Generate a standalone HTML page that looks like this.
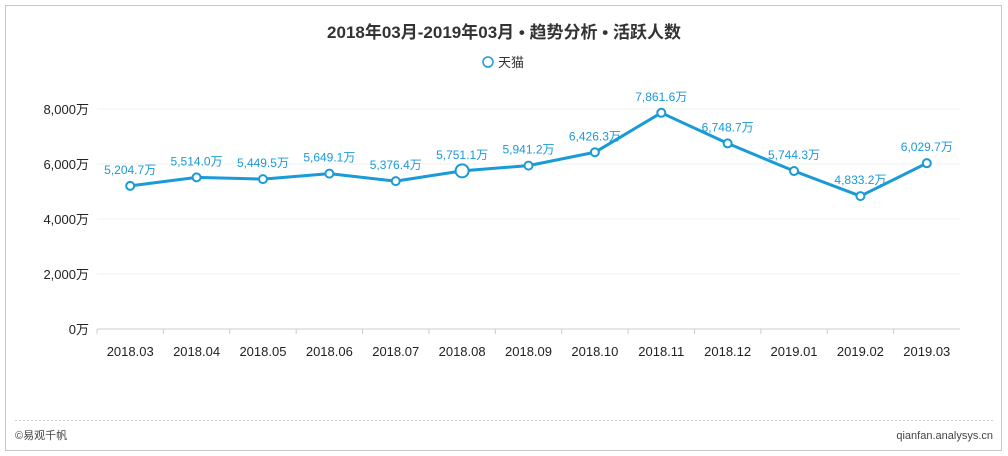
<!DOCTYPE html>
<html><head><meta charset="utf-8"><style>
body{margin:0;background:#fff;font-family:"Liberation Sans","Noto Sans CJK SC",sans-serif;}
#wrap{position:relative;width:1008px;height:456px;overflow:hidden;}
</style></head><body>
<div id="wrap">
<svg id="chart" width="1008" height="456">
<rect x="5.5" y="5.5" width="996" height="445" fill="#fff" stroke="#c8c8c8"/>
<text x="504" y="38" text-anchor="middle" font-size="17" font-weight="bold" fill="#333">2018年03月-2019年03月 • 趋势分析 • 活跃人数</text>
<g>
<circle cx="488" cy="62" r="5" fill="#fff" stroke="#1a9ad6" stroke-width="1.5"/>
<text x="498" y="67" font-size="13" fill="#333">天猫</text>
</g>
<line x1="15" y1="420.5" x2="995" y2="420.5" stroke="#ccc" stroke-dasharray="2,2"/>
<text x="15" y="439" font-size="11" fill="#444">©易观千帆</text>
<text x="993" y="439" font-size="11" fill="#444" text-anchor="end">qianfan.analysys.cn</text>
<g id="grid"></g><g id="axes"></g><g id="series"></g>
</svg>
</div>
<script>
const categories=["2018.03","2018.04","2018.05","2018.06","2018.07","2018.08","2018.09","2018.10","2018.11","2018.12","2019.01","2019.02","2019.03"];
const values=[5204.7,5514.0,5449.5,5649.1,5376.4,5751.1,5941.2,6426.3,7861.6,6748.7,5744.3,4833.2,6029.7];
const yTicks=[0,2000,4000,6000,8000];
const yTickLabels=["0万","2,000万","4,000万","6,000万","8,000万"];
const NS="http://www.w3.org/2000/svg";
const x0=97,x1=960,y0=329,y8=109;
const band=(x1-x0)/categories.length;
function xs(i){return x0+band*(i+0.5);}
function ys(v){return y0-(v/8000)*(y0-y8);}
function mk(t,a,p){const e=document.createElementNS(NS,t);for(const k in a)e.setAttribute(k,a[k]);p.appendChild(e);return e;}
const grid=document.getElementById('grid'),axes=document.getElementById('axes'),ser=document.getElementById('series');
yTicks.forEach((t,i)=>{
 const l=mk('line',{x1:x0,x2:x1,y1:ys(t),y2:ys(t),stroke:i==0?'#ccc':'#f0f0f0'},grid);
 
 
 const tx=mk('text',{x:89,y:ys(t)+5,'text-anchor':'end','font-size':13,fill:'#222'},axes);
 tx.textContent=yTickLabels[i];
 
 
});
categories.forEach((c,i)=>{
 const tk=mk('line',{x1:x0+band*i,x2:x0+band*i,y1:y0,y2:y0+5,stroke:'#ccc'},axes);
 
 
 const tx=mk('text',{x:xs(i),y:356,'text-anchor':'middle','font-size':13,fill:'#222'},axes);
 tx.textContent=c;
 
 
});
const pts=values.map((v,i)=>xs(i)+','+ys(v)).join(' ');
const pl=mk('polyline',{points:pts,fill:'none',stroke:'#1a9ad6','stroke-width':3,'stroke-linejoin':'round'},ser);


values.forEach((v,i)=>{
 const big=i==5;
 const c=mk('circle',{cx:xs(i),cy:ys(v),r:big?6.5:4,fill:'#fff',stroke:'#1a9ad6','stroke-width':2},ser);
 
 
 const t=mk('text',{x:xs(i),y:ys(v)-12,'text-anchor':'middle','font-size':12,fill:'#1a9ad6'},ser);
 t.textContent=v.toLocaleString('en-US',{minimumFractionDigits:1,maximumFractionDigits:1})+'万';
 
 
});
</script>
</body></html>
